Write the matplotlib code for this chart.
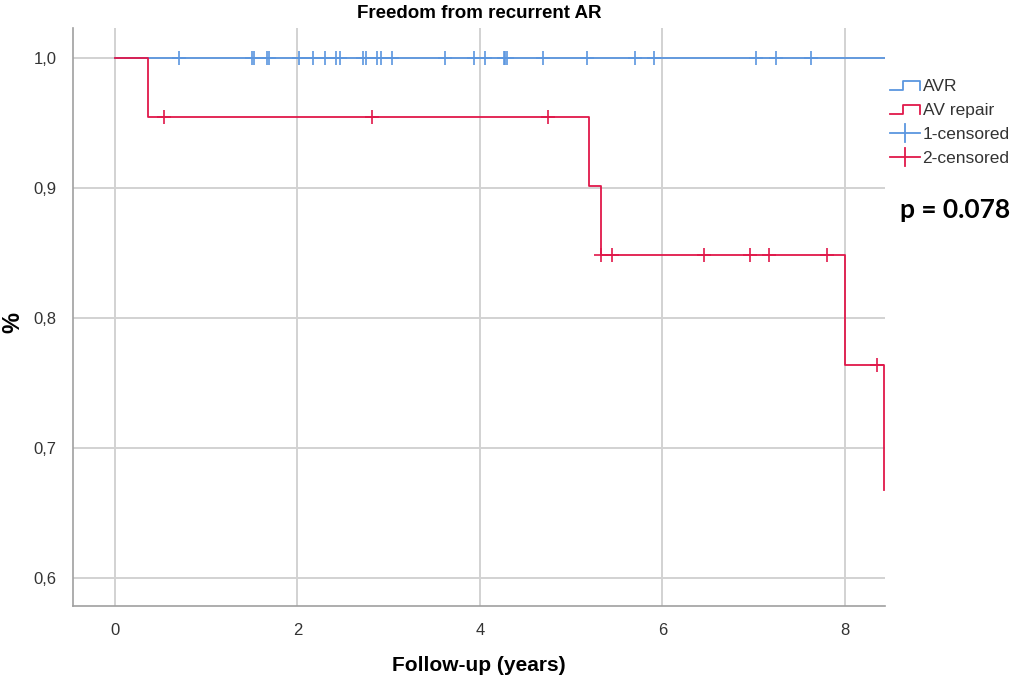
import matplotlib
matplotlib.use("Agg")
import matplotlib.pyplot as plt
from matplotlib.lines import Line2D
from matplotlib.legend_handler import HandlerBase

# ---- data ----
avr_times = [0.0, 8.44]
avr_surv = [1.0, 1.0]
avr_censored = [0.70, 1.50, 1.52, 1.67, 1.69, 2.02, 2.17, 2.30, 2.42, 2.47,
                2.72, 2.75, 2.87, 2.92, 3.04, 3.62, 3.93, 4.05, 4.26, 4.28,
                4.30, 4.69, 5.17, 5.70, 5.91, 7.03, 7.24, 7.63]

rep_times = [0.0, 0.36, 5.20, 5.33, 8.00, 8.43]
rep_surv = [1.0, 0.9545, 0.902, 0.849, 0.764, 0.668]
rep_censored = [0.54, 2.82, 4.75, 5.33, 5.45, 6.46, 6.96, 7.17, 7.80, 8.35]

x_ticks = [0, 2, 4, 6, 8]
y_ticks = [0.6, 0.7, 0.8, 0.9, 1.0]
y_ticklabels = ["0,6", "0,7", "0,8", "0,9", "1,0"]

blue = "#5b96df"
red = "#e0184a"
FONT = "Liberation Sans"


def surv_at(times, surv, t):
    s = surv[0]
    for tt, ss in zip(times, surv):
        if tt <= t:
            s = ss
    return s


fig = plt.figure(figsize=(10.19, 6.79), dpi=100)
ax = fig.add_axes([0.0716, 0.1075, 0.797, 0.851])

ax.step(avr_times, avr_surv, where="post", color=blue, lw=1.3, zorder=3)
ax.step(rep_times + [8.43], rep_surv + [rep_surv[-1]], where="post", color=red, lw=1.3, zorder=4)

ax.plot(avr_censored, [surv_at(avr_times, avr_surv, t) for t in avr_censored],
        ls="none", marker="+", ms=10, mew=1.2, color=blue, zorder=3)
ax.plot(rep_censored, [surv_at(rep_times, rep_surv, t) for t in rep_censored],
        ls="none", marker="+", ms=10, mew=1.2, color=red, zorder=4)

ax.set_xlim(-0.46, 8.44)
ax.set_ylim(0.5785, 1.0232)
ax.set_xticks(x_ticks)
ax.set_yticks(y_ticks)
ax.set_yticklabels(y_ticklabels)
ax.grid(True, color="#d2d2d2", lw=1.4)
ax.set_axisbelow(True)
for s in ["top", "right"]:
    ax.spines[s].set_visible(False)
for s in ["left", "bottom"]:
    ax.spines[s].set_color("#a0a0a0")
    ax.spines[s].set_linewidth(1.2)
ax.tick_params(length=0, pad=12, colors="#333333")
for lab in ax.get_xticklabels() + ax.get_yticklabels():
    lab.set_family(FONT)
    lab.set_fontsize(12)

ax.set_title("Freedom from recurrent AR", fontsize=13.5, fontweight="bold",
             family=FONT, pad=7)
ax.set_xlabel("Follow-up (years)", fontsize=15, fontweight="bold",
              family=FONT)
ax.xaxis.set_label_coords(0.5, -0.087)
ax.set_ylabel("%", fontsize=17, fontweight="bold", family=FONT)
ax.yaxis.set_label_coords(-0.06, 0.49)


class StepHandler(HandlerBase):
    def create_artists(self, legend, orig_handle, xd, yd, w, h, fontsize, trans):
        c = orig_handle.get_color()
        xs = [xd, xd + w * 0.45, xd + w * 0.45, xd + w, xd + w]
        ys = [yd + h * 0.1, yd + h * 0.1, yd + h * 0.85, yd + h * 0.85, yd + h * 0.1]
        ln = Line2D(xs, ys, color=c, lw=1.3, transform=trans)
        return [ln]


class CrossHandler(HandlerBase):
    def create_artists(self, legend, orig_handle, xd, yd, w, h, fontsize, trans):
        c = orig_handle.get_color()
        l1 = Line2D([xd, xd + w], [yd + h / 2, yd + h / 2], color=c, lw=1.3, transform=trans)
        l2 = Line2D([xd + w / 2, xd + w / 2], [yd - h * 0.25, yd + h * 1.25], color=c, lw=1.3, transform=trans)
        return [l1, l2]


h_avr = Line2D([], [], color=blue)
h_rep = Line2D([], [], color=red)
h_c1 = Line2D([], [], color=blue, marker="+")
h_c2 = Line2D([], [], color=red, marker="+")
leg = fig.legend([h_avr, h_rep, h_c1, h_c2], ["AVR", "AV repair", "1-censored", "2-censored"],
                 handler_map={h_avr: StepHandler(), h_rep: StepHandler(),
                              h_c1: CrossHandler(), h_c2: CrossHandler()},
                 loc="upper left", bbox_to_anchor=(0.873, 0.884), frameon=False,
                 prop={"family": FONT, "size": 12.5},
                 handlelength=1.75, handletextpad=0.15, labelspacing=0.52, borderaxespad=0,
                 borderpad=0)
for t in leg.get_texts():
    t.set_color("#333333")

fig.text(0.883, 0.69, "p = 0.078", fontsize=19, fontweight="bold", family="Lato",
         ha="left", va="center")

fig.savefig("out.png", dpi=100)
